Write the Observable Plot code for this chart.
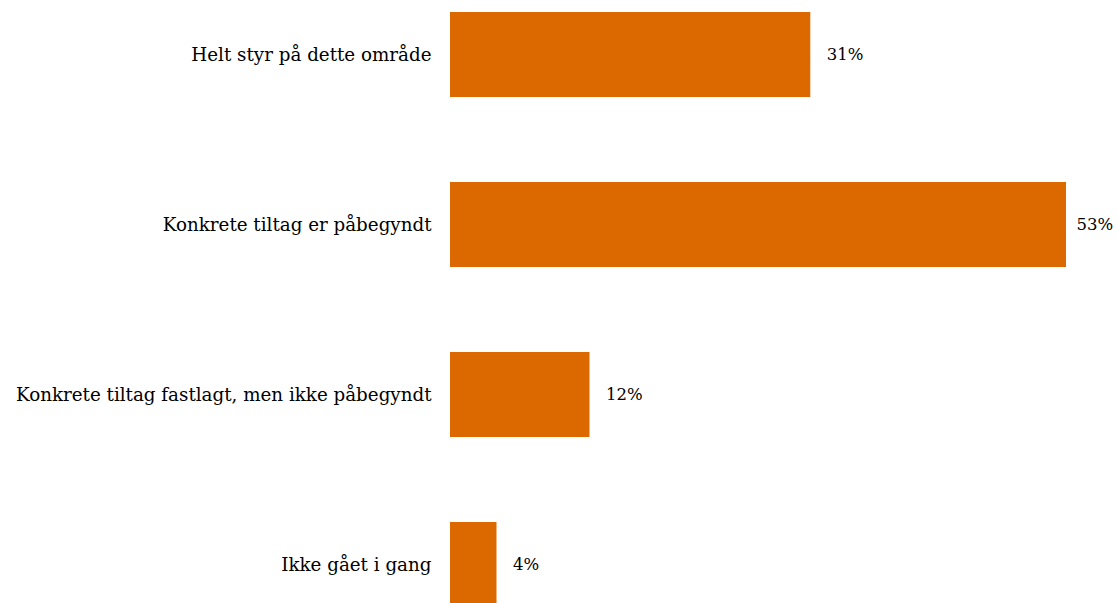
<!DOCTYPE html>
<html>
<head>
<meta charset="utf-8">
<script src="https://cdn.jsdelivr.net/npm/d3@7"></script>
<script src="https://cdn.jsdelivr.net/npm/@observablehq/plot@0.6"></script>
<style>
  html, body { margin: 0; padding: 0; background: #fff; overflow: hidden; }
  svg { display: block; }
</style>
</head>
<body>
<div id="chart"></div>
<script>
const categories = [
  "Helt styr på dette område",
  "Konkrete tiltag er påbegyndt",
  "Konkrete tiltag fastlagt, men ikke påbegyndt",
  "Ikke gået i gang"
];
const values = [31, 53, 12, 4];

const data = categories.map((c, i) => ({category: c, value: values[i]}));
const maxVal = d3.max(values);

const chart = Plot.plot({
  width: 1119,
  height: 618,
  marginLeft: 450,
  marginRight: 53,
  marginTop: 0,
  marginBottom: 0,
  style: {fontFamily: "'DejaVu Serif', serif", fontSize: "16px", color: "#000", background: "#fff"},
  x: {domain: [0, maxVal], axis: null},
  y: {domain: categories, paddingInner: 0.5, paddingOuter: 0.065, label: null},
  marks: [
    Plot.barX(data, {x: "value", y: "category", fill: "#db6900"}),
    Plot.axisY({tickSize: 0, tickPadding: 19, label: null, fontSize: 18.3, fill: "#000"}),
    Plot.text(data.filter(d => d.value !== maxVal), {x: "value", y: "category", text: d => d.value + "%", textAnchor: "start", dx: 16, fill: "#000", fontSize: 16.5}),
    Plot.text(data.filter(d => d.value === maxVal), {x: "value", y: "category", text: d => d.value + "%", textAnchor: "start", dx: 10, fill: "#000", fontSize: 16.5})
  ]
});
document.getElementById("chart").appendChild(chart);
</script>
</body>
</html>
